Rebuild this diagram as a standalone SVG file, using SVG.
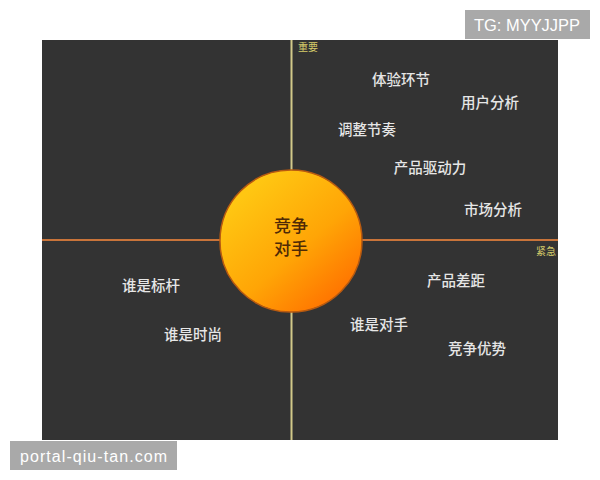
<svg xmlns="http://www.w3.org/2000/svg" width="600" height="480" viewBox="0 0 600 480">
<style>
.lbl{font-family:"Noto Sans CJK SC","Noto Sans",sans-serif;font-size:14.5px;fill:#e6e6e6;text-anchor:middle;font-weight:500}
.ax{font-family:"Noto Sans CJK SC","Noto Sans",sans-serif;font-size:10px;fill:#d6cc6a;text-anchor:middle}
.wm{font-family:"Liberation Sans",Arial,sans-serif;font-size:16px;fill:#ffffff}
.ct{font-family:"Noto Sans CJK SC",sans-serif;font-size:17px;fill:#4e2a06;text-anchor:middle;font-weight:500}
</style>
<defs>
<linearGradient id="g" x1="0.2" y1="0.15" x2="0.85" y2="0.9">
<stop offset="0" stop-color="#ffc612"/>
<stop offset="0.55" stop-color="#ffa506"/>
<stop offset="1" stop-color="#ff7200"/>
</linearGradient>
</defs>
<rect width="600" height="480" fill="#ffffff"/>
<rect x="42" y="40" width="516" height="400" fill="#333333"/>
<g id="connectors">
<line x1="42" y1="240" x2="558" y2="240" stroke="#c9743a" stroke-width="2"/>
<line x1="291.5" y1="40" x2="291.5" y2="440" stroke="#d2c98a" stroke-width="2"/>
</g>
<g id="axis-labels">
<text class="ax" x="308" y="51">重要</text>
<text class="ax" x="546" y="255">紧急</text>
</g>
<g id="center">
<circle cx="291" cy="241" r="71" fill="url(#g)" stroke="#b85a10" stroke-width="1.5"/>
<text class="ct" x="291" y="232">竞争</text>
<text class="ct" x="291" y="255">对手</text>
</g>
<g id="n1"><text class="lbl" x="401" y="85">体验环节</text></g>
<g id="n2"><text class="lbl" x="490" y="108">用户分析</text></g>
<g id="n3"><text class="lbl" x="367" y="135">调整节奏</text></g>
<g id="n4"><text class="lbl" x="430" y="173">产品驱动力</text></g>
<g id="n5"><text class="lbl" x="493" y="215">市场分析</text></g>
<g id="n6"><text class="lbl" x="456" y="286">产品差距</text></g>
<g id="n7"><text class="lbl" x="379" y="330">谁是对手</text></g>
<g id="n8"><text class="lbl" x="477" y="354">竞争优势</text></g>
<g id="n9"><text class="lbl" x="151" y="291">谁是标杆</text></g>
<g id="n10"><text class="lbl" x="193" y="340">谁是时尚</text></g>
<g id="watermarks">
<rect x="465" y="10" width="125" height="29" fill="#a9a9a9"/>
<text class="wm" x="474" y="31" textLength="106" lengthAdjust="spacingAndGlyphs">TG: MYYJJPP</text>
<rect x="10" y="441" width="167" height="29" fill="#a9a9a9"/>
<text class="wm" x="20" y="462" textLength="147" lengthAdjust="spacing">portal-qiu-tan.com</text>
</g>
</svg>
